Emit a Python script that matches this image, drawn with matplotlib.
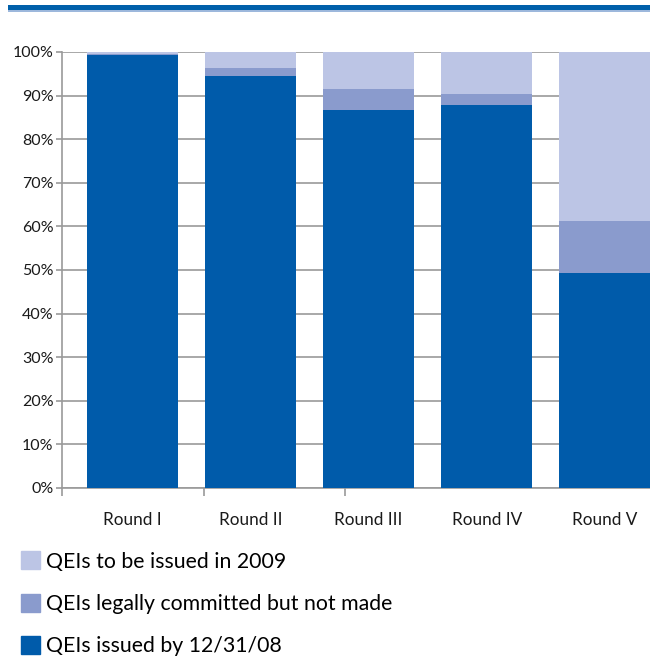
import matplotlib.pyplot as plt
from matplotlib.patches import Patch, Rectangle
import numpy as np

plt.rcParams['font.family'] = ['Lato', 'DejaVu Sans']

rounds = ['Round I', 'Round II', 'Round III', 'Round IV', 'Round V']
issued = [99.3, 94.5, 86.7, 87.8, 49.3]
committed = [0.2, 1.8, 4.8, 2.6, 11.9]
to_be_issued = [0.5, 3.7, 8.5, 9.6, 38.8]

labels = ['QEIs to be issued in 2009',
          'QEIs legally committed but not made',
          'QEIs issued by 12/31/08']
c_dark = '#005BAA'
c_mid = '#8A9BCD'
c_light = '#BCC5E5'

fig = plt.figure(figsize=(6.5, 6.58), dpi=100)
ax = fig.add_axes([0.0954, 0.2584, 0.9046, 0.6626])

x = np.arange(len(rounds))
w = 0.77
ax.bar(x, issued, w, color=c_dark, zorder=3)
ax.bar(x, committed, w, bottom=issued, color=c_mid, zorder=3)
ax.bar(x, to_be_issued, w, bottom=np.add(issued, committed), color=c_light, zorder=3)

ax.set_xlim(-0.6, 4.385)
ax.set_ylim(0, 100)
ax.set_yticks(range(0, 101, 10))
ax.set_yticklabels([f'{v}%' for v in range(0, 101, 10)])
ax.yaxis.grid(True, color='#9a9a9a', linewidth=1.2, zorder=0)

ax.set_xticks(x)
ax.set_xticklabels(rounds)
ax.set_xticks([-0.6, 0.6, 1.8, 3.0], minor=True)
ax.tick_params(axis='x', which='major', length=0, pad=17, labelsize=12.3, colors='#1a1a1a')
ax.tick_params(axis='x', which='minor', length=6, color='#9a9a9a', width=1.2)
ax.tick_params(axis='y', length=4, width=1.2, labelsize=11.5, pad=2,
               colors='#9a9a9a', labelcolor='#1a1a1a')

for s in ['top', 'right']:
    ax.spines[s].set_visible(False)
for s in ['left', 'bottom']:
    ax.spines[s].set_color('#9a9a9a')
    ax.spines[s].set_linewidth(1.2)

# top rule
fig.add_artist(Rectangle((8 / 650, 1 - 10 / 658), 1, 5 / 658, transform=fig.transFigure,
                         color='#0060AA', lw=0))
fig.add_artist(Rectangle((8 / 650, 1 - 11.5 / 658), 1, 1.5 / 658, transform=fig.transFigure,
                         color='#9DB8DC', lw=0))

handles = [Patch(color=c) for c in [c_light, c_mid, c_dark]]
fig.legend(handles, labels, loc='upper left', bbox_to_anchor=(0.032, 0.162),
           frameon=False, fontsize=15.3, handlelength=0.9, handleheight=0.9,
           handletextpad=0.3, labelspacing=1.05, borderaxespad=0, borderpad=0)

fig.savefig('out.png', dpi=100)
